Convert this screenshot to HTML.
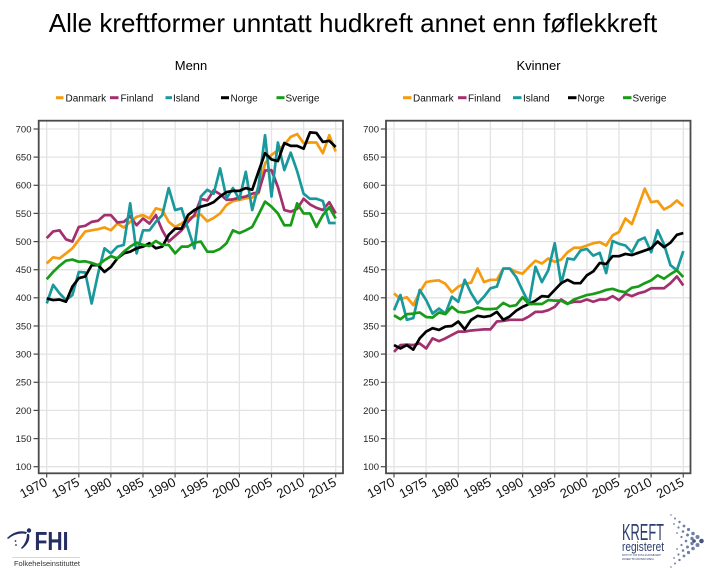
<!DOCTYPE html>
<html><head><meta charset="utf-8"><style>
html,body{margin:0;padding:0;background:#fff;}
svg{display:block;font-family:"Liberation Sans",Arial,sans-serif;}
.g line{stroke:#e3e3e3;stroke-width:1.3;}
.s{fill:none;stroke-width:2.7;stroke-linejoin:round;stroke-linecap:butt;vector-effect:non-scaling-stroke;}
.dk{stroke:#F49B10}.fi{stroke:#A3306E}.is{stroke:#19999B}.no{stroke:#000}.se{stroke:#189C18}
.yl{font-size:9.5px;fill:#222;text-anchor:end;}
.xl{font-size:13px;fill:#111;text-anchor:end;}
.lg{font-size:10px;fill:#111;}
</style></head><body>
<svg width="705" height="576" viewBox="0 0 705 576" xmlns="http://www.w3.org/2000/svg">
<rect width="705" height="576" fill="#fff"/>
<text x="353" y="32" font-size="26" text-anchor="middle" fill="#000">Alle kreftformer unntatt hudkreft annet enn føflekkreft</text>
<text x="191" y="70" font-size="13" text-anchor="middle" fill="#000">Menn</text>
<text x="538.5" y="70" font-size="13" text-anchor="middle" fill="#000">Kvinner</text>

<!-- legends -->
<g stroke-width="3">
<line x1="56" y1="97.7" x2="63.5" y2="97.7" stroke="#F49B10"/>
<line x1="110" y1="97.7" x2="118.5" y2="97.7" stroke="#A3306E"/>
<line x1="165.5" y1="97.7" x2="172" y2="97.7" stroke="#19999B"/>
<line x1="221" y1="97.7" x2="229" y2="97.7" stroke="#000"/>
<line x1="276.5" y1="97.7" x2="284.5" y2="97.7" stroke="#189C18"/>
<line x1="403" y1="97.7" x2="411.5" y2="97.7" stroke="#F49B10"/>
<line x1="458" y1="97.7" x2="466.5" y2="97.7" stroke="#A3306E"/>
<line x1="513" y1="97.7" x2="521.5" y2="97.7" stroke="#19999B"/>
<line x1="568" y1="97.7" x2="576.5" y2="97.7" stroke="#000"/>
<line x1="623" y1="97.7" x2="631.5" y2="97.7" stroke="#189C18"/>
</g>
<text class="lg" x="65.5" y="101.5">Danmark</text>
<text class="lg" x="120.5" y="101.5">Finland</text>
<text class="lg" x="173" y="101.5">Island</text>
<text class="lg" x="230.5" y="101.5">Norge</text>
<text class="lg" x="285.5" y="101.5">Sverige</text>
<text class="lg" x="413" y="101.5">Danmark</text>
<text class="lg" x="468" y="101.5">Finland</text>
<text class="lg" x="523" y="101.5">Island</text>
<text class="lg" x="577.5" y="101.5">Norge</text>
<text class="lg" x="632.5" y="101.5">Sverige</text>

<!-- LEFT PANEL grid -->
<g class="g">
<line x1="46.7" y1="121" x2="46.7" y2="473"/><line x1="78.8" y1="121" x2="78.8" y2="473"/><line x1="110.9" y1="121" x2="110.9" y2="473"/><line x1="143" y1="121" x2="143" y2="473"/><line x1="175.1" y1="121" x2="175.1" y2="473"/><line x1="207.3" y1="121" x2="207.3" y2="473"/><line x1="239.4" y1="121" x2="239.4" y2="473"/><line x1="271.5" y1="121" x2="271.5" y2="473"/><line x1="303.6" y1="121" x2="303.6" y2="473"/><line x1="335.7" y1="121" x2="335.7" y2="473"/>
<line x1="39" y1="129" x2="343" y2="129"/><line x1="39" y1="157.1" x2="343" y2="157.1"/><line x1="39" y1="185.3" x2="343" y2="185.3"/><line x1="39" y1="213.4" x2="343" y2="213.4"/><line x1="39" y1="241.6" x2="343" y2="241.6"/><line x1="39" y1="269.7" x2="343" y2="269.7"/><line x1="39" y1="297.8" x2="343" y2="297.8"/><line x1="39" y1="326" x2="343" y2="326"/><line x1="39" y1="354.1" x2="343" y2="354.1"/><line x1="39" y1="382.3" x2="343" y2="382.3"/><line x1="39" y1="410.4" x2="343" y2="410.4"/><line x1="39" y1="438.6" x2="343" y2="438.6"/><line x1="39" y1="466.7" x2="343" y2="466.7"/>
</g>
<!-- RIGHT PANEL grid -->
<g class="g">
<line x1="394" y1="121" x2="394" y2="473"/><line x1="426.1" y1="121" x2="426.1" y2="473"/><line x1="458.3" y1="121" x2="458.3" y2="473"/><line x1="490.4" y1="121" x2="490.4" y2="473"/><line x1="522.6" y1="121" x2="522.6" y2="473"/><line x1="554.7" y1="121" x2="554.7" y2="473"/><line x1="586.9" y1="121" x2="586.9" y2="473"/><line x1="619" y1="121" x2="619" y2="473"/><line x1="651.1" y1="121" x2="651.1" y2="473"/><line x1="683.3" y1="121" x2="683.3" y2="473"/>
<line x1="386" y1="129" x2="690.5" y2="129"/><line x1="386" y1="157.1" x2="690.5" y2="157.1"/><line x1="386" y1="185.3" x2="690.5" y2="185.3"/><line x1="386" y1="213.4" x2="690.5" y2="213.4"/><line x1="386" y1="241.6" x2="690.5" y2="241.6"/><line x1="386" y1="269.7" x2="690.5" y2="269.7"/><line x1="386" y1="297.8" x2="690.5" y2="297.8"/><line x1="386" y1="326" x2="690.5" y2="326"/><line x1="386" y1="354.1" x2="690.5" y2="354.1"/><line x1="386" y1="382.3" x2="690.5" y2="382.3"/><line x1="386" y1="410.4" x2="690.5" y2="410.4"/><line x1="386" y1="438.6" x2="690.5" y2="438.6"/><line x1="386" y1="466.7" x2="690.5" y2="466.7"/>
</g>

<!-- LEFT series -->
<g transform="matrix(6.422 0 0 -0.5628 46.7 522.96)">
<polyline class="s dk" points="0,461 1,472 2,470 3,479 4,488 5,503 6,518 7,520 8,522 9,525 10,520 11,532 12,525 13,535 14,544 15,547 16,541 17,559 18,556 19,535 20,526 21,532 22,541 23,545 24,548 25,536 26,542 27,550 28,565 29,572 30,574 31,577 32,578 33,586 34,639 35,654 36,662 37,672 38,686 39,691 40,675 41,676 42,676 43,657 44,689 45,660"/>
<polyline class="s fi" points="0,506 1,518 2,520 3,504 4,500 5,526 6,528 7,535 8,537 9,547 10,547 11,534 12,535 13,545 14,529 15,541 16,532 17,547 18,520 19,500 20,510 21,520 22,535 23,547 24,576 25,573 26,591 27,584 28,574 29,575 30,578 31,580 32,585 33,588 34,626 35,627 36,597 37,556 38,553 39,558 40,576 41,566 42,560 43,556 44,570 45,550"/>
<polyline class="s is" points="0,390 1,423 2,408 3,396 4,405 5,446 6,445 7,390 8,443 9,488 10,479 11,491 12,494 13,568 14,479 15,520 16,520 17,535 18,547 19,595 20,556 21,559 22,523 23,488 24,580 25,592 26,585 27,630 28,577 29,595 30,575 31,624 32,556 33,600 34,689 35,580 36,676 37,627 38,658 39,625 40,585 41,576 42,576 43,572 44,533 45,533"/>
<polyline class="s no" points="0,399 1,396 2,397 3,393 4,420 5,435 6,438 7,458 8,458 9,446 10,455 11,470 12,479 13,482 14,488 15,491 16,497 17,488 18,491 19,512 20,523 21,523 22,547 23,556 24,562 25,565 26,570 27,580 28,588 29,590 30,590 31,595 32,592 33,625 34,657 35,646 36,643 37,675 38,670 39,670 40,665 41,694 42,693 43,677 44,679 45,668"/>
<polyline class="s se" points="0,433 1,446 2,457 3,466 4,468 5,464 6,465 7,462 8,458 9,467 10,474 11,470 12,482 13,491 14,498 15,494 16,492 17,501 18,494 19,494 20,479 21,491 22,491 23,498 24,500 25,482 26,482 27,487 28,497 29,520 30,515 31,520 32,526 33,548 34,571 35,562 36,550 37,529 38,529 39,568 40,550 41,550 42,526 43,547 44,561 45,541"/>
</g>

<!-- RIGHT series -->
<g transform="matrix(6.429 0 0 -0.5628 394 522.96)">
<polyline class="s dk" points="0,408 1,398 2,401 3,387 4,410 5,428 6,430 7,431 8,425 9,410 10,420 11,425 12,427 13,452 14,428 15,432 16,432 17,452 18,452 19,446 20,443 21,455 22,466 23,461 24,470 25,464 26,468 27,481 28,489 29,489 30,493 31,497 32,499 33,493 34,511 35,517 36,541 37,531 38,562 39,594 40,570 41,572 42,557 43,563 44,573 45,563"/>
<polyline class="s fi" points="0,304 1,316 2,317 3,316 4,319 5,310 6,328 7,323 8,328 9,334 10,340 11,340 12,342 13,343 14,344 15,344 16,358 17,359 18,361 19,361 20,361 21,367 22,375 23,375 24,378 25,384 26,397 27,390 28,393 29,393 30,397 31,393 32,397 33,397 34,403 35,396 36,407 37,403 38,408 39,411 40,417 41,417 42,417 43,426 44,438 45,422"/>
<polyline class="s is" points="0,378 1,405 2,361 3,364 4,414 5,396 6,372 7,381 8,372 9,402 10,393 11,432 12,408 13,390 14,402 15,417 16,420 17,452 18,452 19,437 20,413 21,390 22,455 23,428 24,449 25,497 26,425 27,470 28,468 29,484 30,487 31,475 32,480 33,444 34,501 35,496 36,493 37,481 38,502 39,507 40,481 41,520 42,495 43,458 44,449 45,483"/>
<polyline class="s no" points="0,316 1,310 2,316 3,308 4,328 5,340 6,346 7,343 8,349 9,350 10,358 11,344 12,361 13,368 14,366 15,368 16,375 17,361 18,367 19,377 20,384 21,389 22,395 23,403 24,402 25,414 26,426 27,432 28,426 29,426 30,440 31,447 32,462 33,460 34,474 35,474 36,478 37,476 38,480 39,484 40,488 41,500 42,490 43,498 44,512 45,515"/>
<polyline class="s se" points="0,369 1,362 2,371 3,372 4,374 5,366 6,365 7,374 8,371 9,384 10,375 11,374 12,377 13,383 14,380 15,380 16,381 17,391 18,385 19,387 20,401 21,389 22,389 23,389 24,396 25,395 26,395 27,389 28,397 29,401 30,405 31,407 32,410 33,414 34,416 35,412 36,410 37,418 38,420 39,426 40,431 41,440 42,434 43,442 44,449 45,437"/>
</g>

<!-- frames -->
<rect x="38.7" y="120.7" width="304.3" height="352.6" fill="none" stroke="#4a4a4a" stroke-width="1.8"/>
<rect x="386" y="120.7" width="304.5" height="352.6" fill="none" stroke="#4a4a4a" stroke-width="1.8"/>

<!-- ticks -->
<g stroke="#4a4a4a" stroke-width="1.2">
<line x1="33.5" y1="129" x2="38.7" y2="129"/><line x1="33.5" y1="157.1" x2="38.7" y2="157.1"/><line x1="33.5" y1="185.3" x2="38.7" y2="185.3"/><line x1="33.5" y1="213.4" x2="38.7" y2="213.4"/><line x1="33.5" y1="241.6" x2="38.7" y2="241.6"/><line x1="33.5" y1="269.7" x2="38.7" y2="269.7"/><line x1="33.5" y1="297.8" x2="38.7" y2="297.8"/><line x1="33.5" y1="326" x2="38.7" y2="326"/><line x1="33.5" y1="354.1" x2="38.7" y2="354.1"/><line x1="33.5" y1="382.3" x2="38.7" y2="382.3"/><line x1="33.5" y1="410.4" x2="38.7" y2="410.4"/><line x1="33.5" y1="438.6" x2="38.7" y2="438.6"/><line x1="33.5" y1="466.7" x2="38.7" y2="466.7"/>
<line x1="380.8" y1="129" x2="386" y2="129"/><line x1="380.8" y1="157.1" x2="386" y2="157.1"/><line x1="380.8" y1="185.3" x2="386" y2="185.3"/><line x1="380.8" y1="213.4" x2="386" y2="213.4"/><line x1="380.8" y1="241.6" x2="386" y2="241.6"/><line x1="380.8" y1="269.7" x2="386" y2="269.7"/><line x1="380.8" y1="297.8" x2="386" y2="297.8"/><line x1="380.8" y1="326" x2="386" y2="326"/><line x1="380.8" y1="354.1" x2="386" y2="354.1"/><line x1="380.8" y1="382.3" x2="386" y2="382.3"/><line x1="380.8" y1="410.4" x2="386" y2="410.4"/><line x1="380.8" y1="438.6" x2="386" y2="438.6"/><line x1="380.8" y1="466.7" x2="386" y2="466.7"/>
<line x1="46.7" y1="473.3" x2="46.7" y2="477.5"/><line x1="78.8" y1="473.3" x2="78.8" y2="477.5"/><line x1="110.9" y1="473.3" x2="110.9" y2="477.5"/><line x1="143" y1="473.3" x2="143" y2="477.5"/><line x1="175.1" y1="473.3" x2="175.1" y2="477.5"/><line x1="207.3" y1="473.3" x2="207.3" y2="477.5"/><line x1="239.4" y1="473.3" x2="239.4" y2="477.5"/><line x1="271.5" y1="473.3" x2="271.5" y2="477.5"/><line x1="303.6" y1="473.3" x2="303.6" y2="477.5"/><line x1="335.7" y1="473.3" x2="335.7" y2="477.5"/>
<line x1="394" y1="473.3" x2="394" y2="477.5"/><line x1="426.1" y1="473.3" x2="426.1" y2="477.5"/><line x1="458.3" y1="473.3" x2="458.3" y2="477.5"/><line x1="490.4" y1="473.3" x2="490.4" y2="477.5"/><line x1="522.6" y1="473.3" x2="522.6" y2="477.5"/><line x1="554.7" y1="473.3" x2="554.7" y2="477.5"/><line x1="586.9" y1="473.3" x2="586.9" y2="477.5"/><line x1="619" y1="473.3" x2="619" y2="477.5"/><line x1="651.1" y1="473.3" x2="651.1" y2="477.5"/><line x1="683.3" y1="473.3" x2="683.3" y2="477.5"/>
</g>

<!-- y labels -->
<g class="yl">
<text x="31.5" y="132.4">700</text><text x="31.5" y="160.5">650</text><text x="31.5" y="188.7">600</text><text x="31.5" y="216.8">550</text><text x="31.5" y="245">500</text><text x="31.5" y="273.1">450</text><text x="31.5" y="301.2">400</text><text x="31.5" y="329.4">350</text><text x="31.5" y="357.5">300</text><text x="31.5" y="385.7">250</text><text x="31.5" y="413.8">200</text><text x="31.5" y="442">150</text><text x="31.5" y="470.1">100</text>
<text x="379" y="132.4">700</text><text x="379" y="160.5">650</text><text x="379" y="188.7">600</text><text x="379" y="216.8">550</text><text x="379" y="245">500</text><text x="379" y="273.1">450</text><text x="379" y="301.2">400</text><text x="379" y="329.4">350</text><text x="379" y="357.5">300</text><text x="379" y="385.7">250</text><text x="379" y="413.8">200</text><text x="379" y="442">150</text><text x="379" y="470.1">100</text>
</g>

<!-- x labels -->
<g class="xl">
<text transform="translate(48.3 485) rotate(-28)">1970</text>
<text transform="translate(80.4 485) rotate(-28)">1975</text>
<text transform="translate(112.5 485) rotate(-28)">1980</text>
<text transform="translate(144.6 485) rotate(-28)">1985</text>
<text transform="translate(176.7 485) rotate(-28)">1990</text>
<text transform="translate(208.9 485) rotate(-28)">1995</text>
<text transform="translate(241 485) rotate(-28)">2000</text>
<text transform="translate(273.1 485) rotate(-28)">2005</text>
<text transform="translate(305.2 485) rotate(-28)">2010</text>
<text transform="translate(337.3 485) rotate(-28)">2015</text>
<text transform="translate(395.6 485) rotate(-28)">1970</text>
<text transform="translate(427.7 485) rotate(-28)">1975</text>
<text transform="translate(459.9 485) rotate(-28)">1980</text>
<text transform="translate(492 485) rotate(-28)">1985</text>
<text transform="translate(524.2 485) rotate(-28)">1990</text>
<text transform="translate(556.3 485) rotate(-28)">1995</text>
<text transform="translate(588.5 485) rotate(-28)">2000</text>
<text transform="translate(620.6 485) rotate(-28)">2005</text>
<text transform="translate(652.7 485) rotate(-28)">2010</text>
<text transform="translate(684.9 485) rotate(-28)">2015</text>
</g>

<!-- FHI logo -->
<g fill="#252E63">
<path d="M7,538 Q16,529 27,532 L26,534 Q17,532 8,539 Z"/>
<circle cx="29" cy="530.5" r="2.2"/>
<path d="M29,534 Q31,542 22,549 L21,548 Q27,542 27,534 Z"/>
<circle cx="15.5" cy="541" r="0.9"/>
<circle cx="16" cy="545" r="0.9"/>
<text x="34.5" y="550" font-size="26" font-weight="bold" textLength="34" lengthAdjust="spacingAndGlyphs">FHI</text>
</g>
<line x1="12" y1="557.5" x2="80" y2="557.5" stroke="#c8cad6" stroke-width="0.8"/>
<text x="14" y="566" font-size="7" fill="#333" textLength="66" lengthAdjust="spacingAndGlyphs">Folkehelseinstituttet</text>

<!-- Kreftregisteret logo -->
<g fill="#2E3D6E">
<text x="622" y="540" font-size="23" textLength="42" lengthAdjust="spacingAndGlyphs">KREFT</text>
<text x="622" y="551" font-size="12.5" textLength="42" lengthAdjust="spacingAndGlyphs">registeret</text>
<text x="622" y="556" font-size="3" textLength="39" lengthAdjust="spacingAndGlyphs">INSTITUTT FOR POPULASJONSBASERT</text>
<text x="622" y="560" font-size="3" textLength="32" lengthAdjust="spacingAndGlyphs">KREFTFORSKNING</text>
</g>
<g fill="#6F7FA6">
<circle cx="671" cy="515" r="0.8"/><circle cx="675" cy="518.5" r="1"/><circle cx="679.5" cy="522" r="1.2"/><circle cx="684" cy="526" r="1.4"/><circle cx="688.5" cy="529.5" r="1.6"/><circle cx="693" cy="533.5" r="1.8"/><circle cx="697.5" cy="537" r="2"/><circle cx="701.5" cy="541" r="2.3" fill="#45557F"/>
<circle cx="697.5" cy="545" r="2"/><circle cx="693" cy="548.5" r="1.8"/><circle cx="688.5" cy="552.5" r="1.6"/><circle cx="684" cy="556" r="1.4"/><circle cx="679.5" cy="560" r="1.2"/><circle cx="675" cy="563.5" r="1"/><circle cx="671" cy="567" r="0.8"/>
<circle cx="674" cy="524" r="0.9"/><circle cx="678.5" cy="527.5" r="1.1"/><circle cx="683" cy="531.5" r="1.3"/><circle cx="687.5" cy="535" r="1.5"/><circle cx="692" cy="538.5" r="1.7"/><circle cx="694" cy="541" r="1.8" fill="#45557F"/><circle cx="692" cy="543.5" r="1.7"/><circle cx="687.5" cy="547" r="1.5"/><circle cx="683" cy="550.5" r="1.3"/><circle cx="678.5" cy="554.5" r="1.1"/><circle cx="674" cy="558" r="0.9"/>
<circle cx="677" cy="533" r="0.9"/><circle cx="681.5" cy="537" r="1.1"/><circle cx="686" cy="541" r="1.3"/><circle cx="681.5" cy="545" r="1.1"/><circle cx="677" cy="549" r="0.9"/>
</g>
</svg>
</body></html>
